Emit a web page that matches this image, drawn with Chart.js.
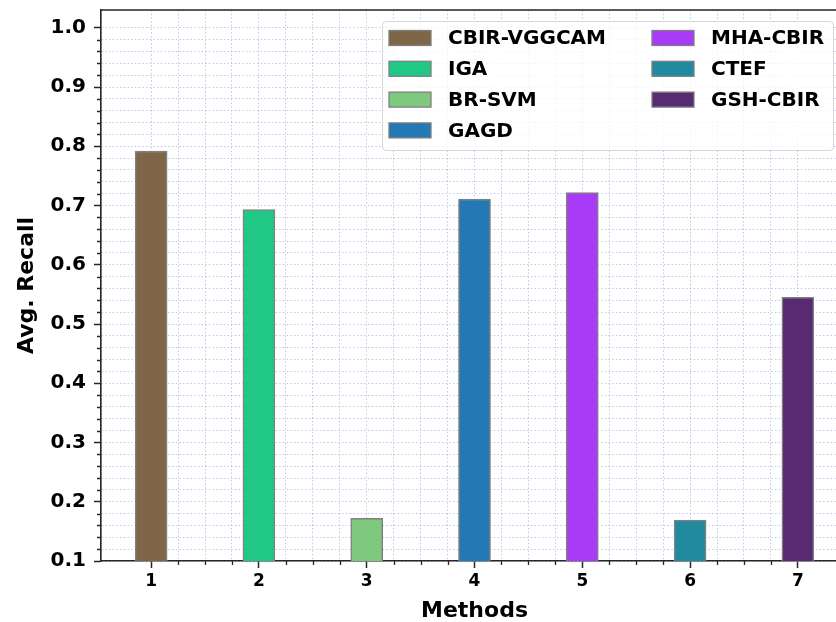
<!DOCTYPE html>
<html>
<head>
<meta charset="utf-8">
<script src="https://cdn.jsdelivr.net/npm/chart.js@4"></script>
<style>
  html, body { margin: 0; padding: 0; background: #fff; overflow: hidden; }
  #wrap { position: absolute; left: 0; top: 0; width: 850px; height: 622px; }
</style>
</head>
<body>
<div id="wrap"><canvas id="recallChart"></canvas></div>
<script>
// chart data
const methods = ['CBIR-VGGCAM', 'IGA', 'BR-SVM', 'GAGD', 'MHA-CBIR', 'CTEF', 'GSH-CBIR'];
const positions = [1, 2, 3, 4, 5, 6, 7];
const recall = [0.792, 0.693, 0.172, 0.711, 0.722, 0.169, 0.545];
const colors = ['#7f6649', '#21c784', '#7ec97e', '#2279b4', '#a83af8', '#218a9e', '#572a72'];

Chart.defaults.font.family = "'DejaVu Sans', sans-serif";
Chart.defaults.color = '#000';

const axisColor = '#262626';
const gridColor = 'rgba(150,150,215,0.55)';

const isMajorY = v => Math.abs(v * 10 - Math.round(v * 10)) < 1e-6;
const isMajorX = v => Math.abs(v - Math.round(v)) < 1e-6;

// no extra inset for the first/last tick label
function noEdgePad(scale) {
  scale.paddingTop = 0; scale.paddingBottom = 0;
  scale.paddingLeft = 0; scale.paddingRight = 0;
}

// minor ticks, top spine and the two-column legend
const extras = {
  id: 'extras',
  beforeDatasetsDraw(chart) {
    const { ctx, chartArea: a, scales: { x, y } } = chart;
    ctx.save();
    ctx.strokeStyle = axisColor;
    ctx.lineWidth = 1.3;
    ctx.beginPath();
    y.ticks.forEach(t => {
      if (!isMajorY(t.value) && t.value > y.min && t.value < y.max) {
        const py = Math.round(y.getPixelForValue(t.value)) + 0.5;
        ctx.moveTo(a.left - 4, py); ctx.lineTo(a.left, py);
      }
    });
    x.ticks.forEach(t => {
      if (!isMajorX(t.value) && t.value > x.min && t.value < x.max) {
        const px = Math.round(x.getPixelForValue(t.value)) + 0.5;
        ctx.moveTo(px, a.bottom); ctx.lineTo(px, a.bottom + 4);
      }
    });
    ctx.stroke();
    ctx.lineWidth = 1.6;
    ctx.beginPath();
    ctx.moveTo(a.left, a.top); ctx.lineTo(a.right, a.top);
    ctx.stroke();
    ctx.restore();
  },
  afterDatasetsDraw(chart) {
    const { ctx, chartArea: a } = chart;
    const bx = a.right - 466, by = a.top + 11, bw = 451, bh = 129;
    ctx.save();
    ctx.beginPath();
    ctx.roundRect(bx + 0.5, by + 0.5, bw, bh, 4);
    ctx.fillStyle = 'rgba(255,255,255,0.8)';
    ctx.fill();
    ctx.strokeStyle = '#d6d6d6';
    ctx.lineWidth = 1;
    ctx.stroke();
    ctx.font = "bold 20px 'DejaVu Sans'";
    ctx.textBaseline = 'middle';
    chart.data.datasets.forEach((ds, i) => {
      const col = i < 4 ? 0 : 1;
      const row = col ? i - 4 : i;
      const cy = by + 17 + row * 30.8;
      const sx = bx + (col ? 270 : 7);
      ctx.fillStyle = ds.backgroundColor;
      ctx.fillRect(sx, cy - 7.5, 42, 15);
      ctx.strokeStyle = '#808080';
      ctx.lineWidth = 1.3;
      ctx.strokeRect(sx, cy - 7.5, 42, 15);
      ctx.fillStyle = '#000';
      ctx.fillText(ds.label, bx + (col ? 329 : 66), cy + 1);
    });
    ctx.restore();
  }
};

const datasets = methods.map((m, i) => ({
  label: m,
  data: [{ x: positions[i], y: recall[i] }],
  backgroundColor: colors[i],
  borderColor: '#808080',
  borderWidth: 1.5,
  grouped: false,
  barThickness: 32
}));

new Chart(document.getElementById('recallChart'), {
  type: 'bar',
  data: { datasets },
  options: {
    responsive: true,
    maintainAspectRatio: false,
    animation: false,
    layout: { padding: { top: 10, right: 2, left: 0, bottom: 0 } },
    plugins: { legend: { display: false }, tooltip: { enabled: false } },
    scales: {
      x: {
        type: 'linear',
        min: 0.535,
        max: 7.465,
        offset: false,
        afterFit(scale) { scale.height = 61; noEdgePad(scale); },
        grid: {
          offset: false,
          color: gridColor,
          lineWidth: 1,
          tickLength: 7,
          tickWidth: 1.5,
          tickColor: c => (c.tick && isMajorX(c.tick.value)) ? axisColor : 'rgba(0,0,0,0)'
        },
        border: { color: axisColor, width: 1.6, dash: [1.5, 2.2] },
        ticks: {
          stepSize: 0.25,
          autoSkip: false,
          maxRotation: 0,
          padding: 3,
          font: { size: 17, weight: 'bold' },
          callback: v => isMajorX(v) ? String(Math.round(v)) : ''
        },
        title: {
          display: true,
          text: 'Methods',
          font: { size: 22, weight: 'bold', lineHeight: 1 },
          padding: 0
        }
      },
      y: {
        min: 0.1,
        max: 1.03,
        afterFit(scale) { scale.width = 101; noEdgePad(scale); },
        grid: {
          color: gridColor,
          lineWidth: 1,
          tickLength: 7,
          tickWidth: 1.5,
          tickColor: c => (c.tick && isMajorY(c.tick.value)) ? axisColor : 'rgba(0,0,0,0)'
        },
        border: { color: axisColor, width: 1.6, dash: [1.5, 2.2] },
        ticks: {
          stepSize: 0.02,
          autoSkip: false,
          padding: 8,
          font: { size: 20, weight: 'bold' },
          callback: v => isMajorY(v) ? v.toFixed(1) : ''
        },
        title: {
          display: true,
          text: 'Avg. Recall',
          font: { size: 22, weight: 'bold', lineHeight: 1 },
          padding: { top: 16, bottom: 0 }
        }
      }
    }
  },
  plugins: [extras]
});
</script>
</body>
</html>
